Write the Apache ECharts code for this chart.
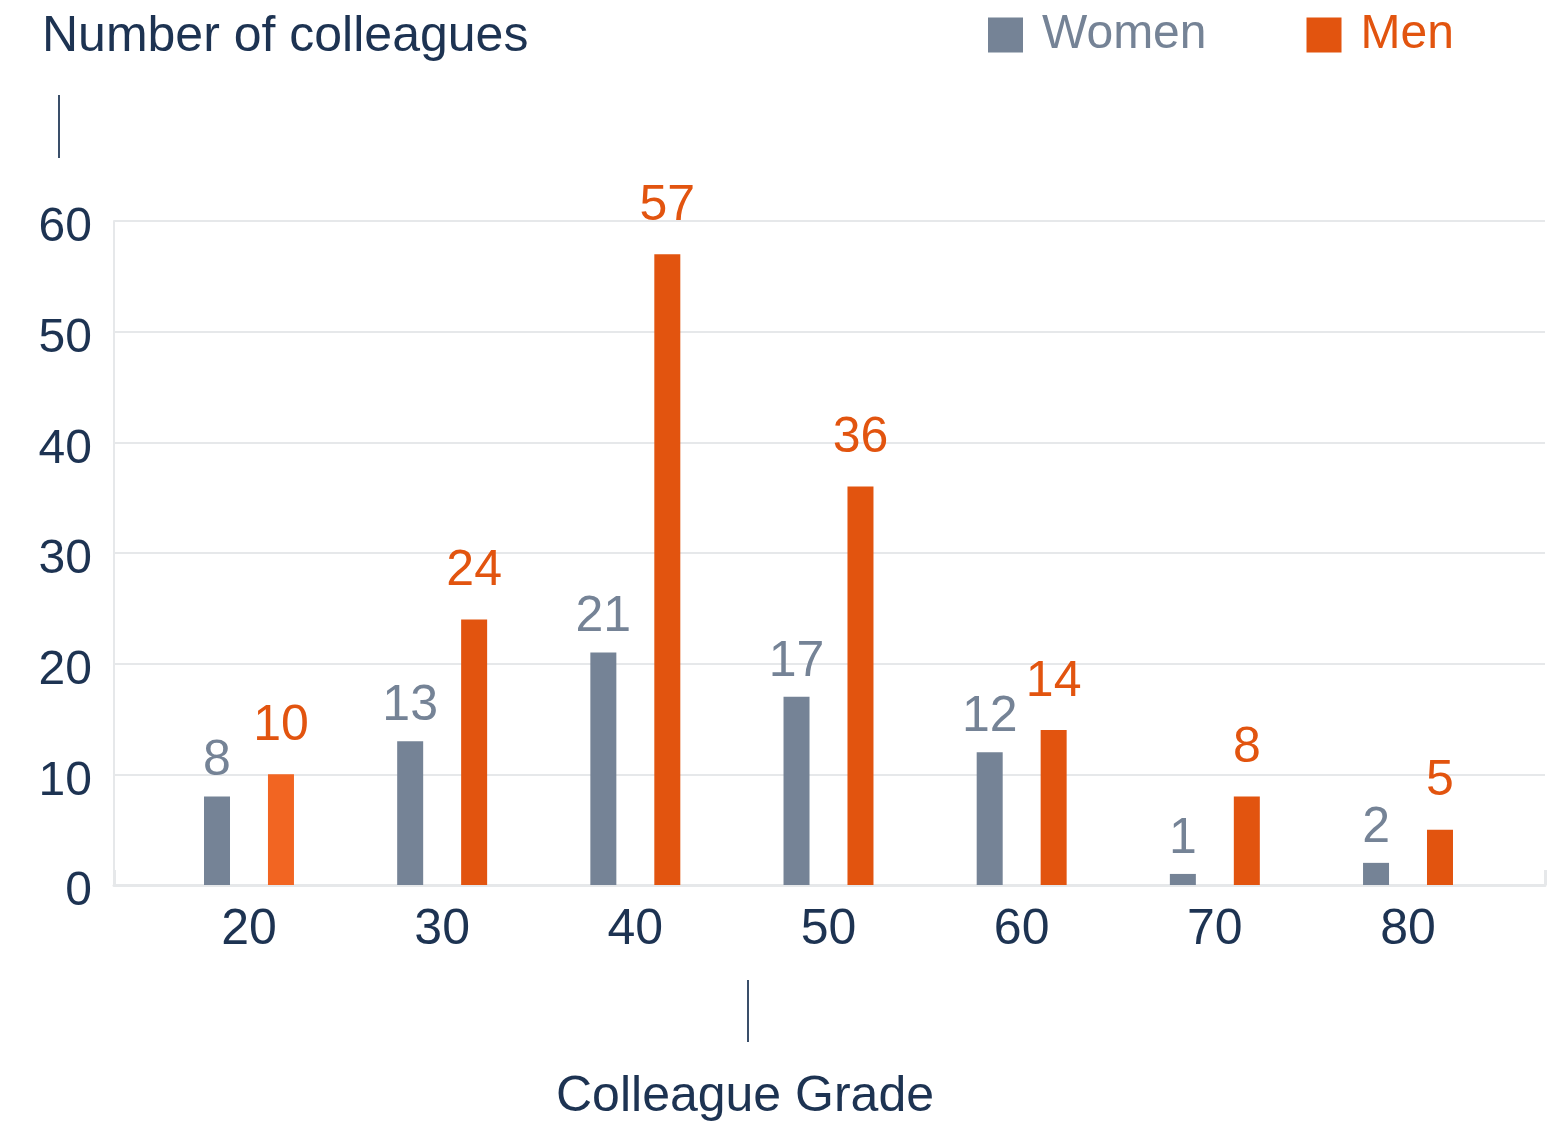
<!DOCTYPE html>
<html><head><meta charset="utf-8">
<script src="https://cdn.jsdelivr.net/npm/echarts@6/dist/echarts.min.js"></script>
<style>html,body{margin:0;padding:0;background:#fff}#c{width:1547px;height:1122px}</style>
</head><body><div id="c"></div>
<script>
const grades = ['20','30','40','50','60','70','80'];
const women = [8,13,21,17,12,1,2];
const men = [10,24,57,36,14,8,5];
const yTicks = [0,10,20,30,40,50,60];

const FONT = '"Liberation Sans", Arial, Helvetica, sans-serif';
const NAVY = '#1D3352';
const GRAY = '#758396';
const ORANGE = '#E2540F';
const ORANGE_LIGHT = '#F26522';
const GRID = '#E6E8EA';

const chart = echarts.init(document.getElementById('c'), null, {renderer:'canvas'});
chart.setOption({
  animation:false,
  backgroundColor:'#fff',
  textStyle:{fontFamily:FONT},
  title:[
    {text:'Number of colleagues', left:37, top:7, textStyle:{fontFamily:FONT, fontSize:50, fontWeight:'normal', color:NAVY}},
    {text:'Colleague Grade', left:551, top:1067, textStyle:{fontFamily:FONT, fontSize:50, fontWeight:'normal', color:NAVY}}
  ],
  legend:{
    left:983, top:6, itemWidth:35, itemHeight:35, itemGap:100, icon:'rect',
    textStyle:{fontFamily:FONT, fontSize:48, padding:[0,0,0,14]},
    data:[
      {name:'Women', textStyle:{color:GRAY}},
      {name:'Men', textStyle:{color:ORANGE}}
    ]
  },
  graphic:[
    {type:'line', shape:{x1:59,y1:95,x2:59,y2:158}, style:{stroke:'#3A4F6A', lineWidth:2}},
    {type:'line', shape:{x1:748,y1:980,x2:748,y2:1042}, style:{stroke:'#3A4F6A', lineWidth:2}}
  ],
  grid:[
    {left:114, right:2, top:221, bottom:237},
    {left:152.4, right:42.4, top:221, bottom:237}
  ],
  xAxis:[
    {type:'value', gridIndex:0, min:0, max:1, interval:1,
      axisLine:{show:true, lineStyle:{color:GRID, width:3}},
      axisTick:{show:true, inside:true, length:15, lineStyle:{color:GRID, width:3}},
      axisLabel:{show:false}, splitLine:{show:false}},
    {type:'category', gridIndex:1, data:grades,
      axisLine:{show:false}, axisTick:{show:false},
      axisLabel:{fontFamily:FONT, fontSize:50, color:NAVY, margin:20}}
  ],
  yAxis:[
    {type:'value', gridIndex:0, min:0, max:60, interval:10,
      axisLine:{show:true, lineStyle:{color:GRID, width:2}},
      axisTick:{show:false},
      splitLine:{show:true, lineStyle:{color:GRID, width:2}},
      axisLabel:{fontFamily:FONT, fontSize:48, color:NAVY, margin:22, verticalAlign:'top', lineHeight:14,
        formatter:function(v){return yTicks.indexOf(v)>=0?String(v):'';}}},
    {type:'value', gridIndex:1, min:0, max:60, interval:10, show:false}
  ],
  series:[
    {name:'Women', type:'bar', xAxisIndex:1, yAxisIndex:1, data:women,
      barWidth:26, barGap:'146%', itemStyle:{color:GRAY},
      label:{show:true, position:'top', distance:10, fontFamily:FONT, fontSize:50, color:GRAY}},
    {name:'Men', type:'bar', xAxisIndex:1, yAxisIndex:1,
      data:men.map(function(v,i){return i===0?{value:v, itemStyle:{color:ORANGE_LIGHT}}:v;}),
      barWidth:26, itemStyle:{color:ORANGE},
      label:{show:true, position:'top', distance:23, fontFamily:FONT, fontSize:50, color:ORANGE}}
  ]
});
</script></body></html>
